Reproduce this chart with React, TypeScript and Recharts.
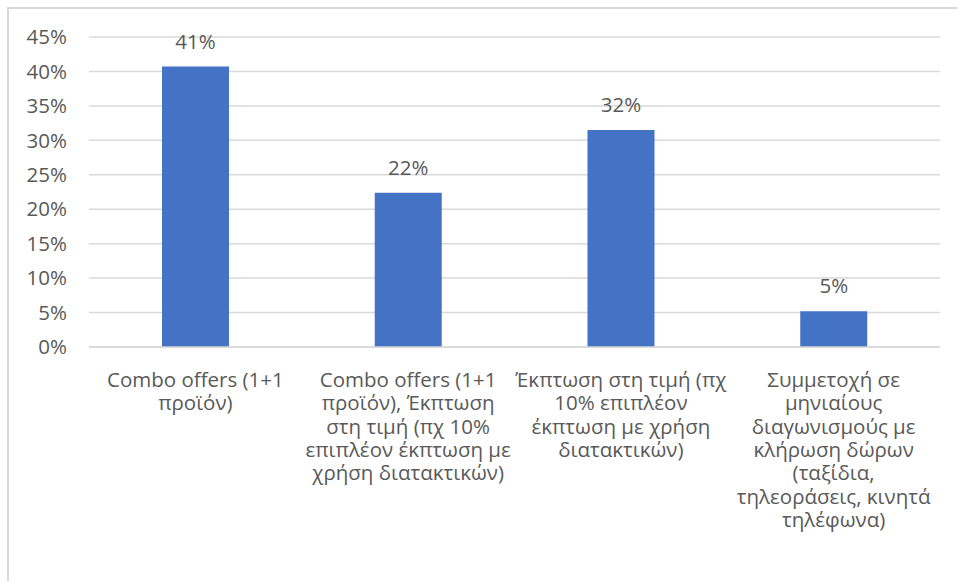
import React from 'react';
import { BarChart, Bar, XAxis, YAxis, CartesianGrid, LabelList } from 'recharts';

const categories = [
  'Combo offers (1+1\nπροϊόν)',
  'Combo offers (1+1\nπροϊόν), Έκπτωση\nστη τιμή (πχ 10%\nεπιπλέον έκπτωση με\nχρήση διατακτικών)',
  'Έκπτωση στη τιμή (πχ\n10% επιπλέον\nέκπτωση με χρήση\nδιατακτικών)',
  'Συμμετοχή σε\nμηνιαίους\nδιαγωνισμούς με\nκλήρωση δώρων\n(ταξίδια,\nτηλεοράσεις, κινητά\nτηλέφωνα)',
];
const shares = [0.407, 0.224, 0.315, 0.052];
const shareLabels = ['41%', '22%', '32%', '5%'];
const yTicks = [0, 0.05, 0.1, 0.15, 0.2, 0.25, 0.3, 0.35, 0.4, 0.45];

const data = categories.map((name, i) => ({ name, value: shares[i], label: shareLabels[i] }));

const FONT = '"Open Sans", sans-serif';
const GREY = '#595959';
const SIZE = 20.5;

function CategoryTick({ x, y, payload }: any) {
  const lines = String(payload.value).split('\n');
  return (
    <text x={x} y={y} textAnchor="middle" fill={GREY} fontSize={SIZE} fontFamily={FONT}>
      {lines.map((line, i) => (
        <tspan key={i} x={x} dy={i === 0 ? 38 : 23.3}>
          {line}
        </tspan>
      ))}
    </text>
  );
}

export default function App() {
  return (
    <div style={{ position: 'fixed', left: 0, top: 0, width: 957, height: 581, background: '#fff', overflow: 'hidden' }}>
      <div
        style={{
          position: 'absolute',
          left: 7,
          top: 7,
          right: -10,
          bottom: -10,
          borderTop: '2px solid #d9d9d9',
          borderLeft: '2px solid #d9d9d9',
        }}
      />
      <div style={{ position: 'absolute', left: 0, top: 0 }}>
        <BarChart width={957} height={581} data={data} margin={{ top: 37, right: 17, left: 0, bottom: 0 }}>
          <CartesianGrid vertical={false} stroke="#d9d9d9" strokeWidth={1.5} />
          <XAxis
            dataKey="name"
            axisLine={{ stroke: '#d9d9d9', strokeWidth: 1.5 }}
            tickLine={false}
            tickSize={0}
            height={234}
            interval={0}
            tick={<CategoryTick />}
          />
          <YAxis
            width={89}
            domain={[0, 0.45]}
            ticks={yTicks}
            axisLine={false}
            tickLine={false}
            tickSize={0}
            tickMargin={22}
            tickFormatter={(v: number) => `${Math.round(v * 100)}%`}
            tick={{ fill: GREY, fontSize: SIZE, fontFamily: FONT }}
          />
          <Bar dataKey="value" fill="#4472c4" barSize={67} isAnimationActive={false}>
            <LabelList dataKey="label" position="top" offset={18} fill={GREY} fontSize={SIZE} fontFamily={FONT} />
          </Bar>
        </BarChart>
      </div>
    </div>
  );
}
